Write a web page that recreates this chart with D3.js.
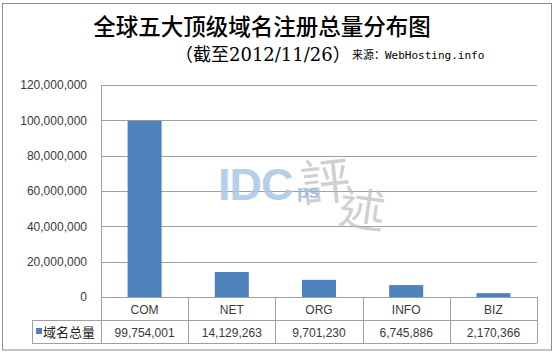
<!DOCTYPE html>
<html><head><meta charset="utf-8">
<script src="https://cdn.jsdelivr.net/npm/d3@7"></script>
<style>
html,body{margin:0;padding:0;background:#fff;}
svg{display:block;}
</style></head>
<body>
<svg id="chart" width="554" height="353"></svg>
<script>
const categories = ["COM", "NET", "ORG", "INFO", "BIZ"];
const values = [99754001, 14129263, 9701230, 6745886, 2170366];
const yTicks = [0, 20000000, 40000000, 60000000, 80000000, 100000000, 120000000];
const seriesName = "域名总量";
const titleText = "全球五大顶级域名注册总量分布图";
const subtitleParts = ["（截至", "2012/11/26", "）"];
const sourceText = "来源：WebHosting.info";

const svg = d3.select("#chart");
const fmt = d3.format(",");
const plotL = 101, plotR = 537, plotT = 85, plotB = 297;
const rowH = 23;

// outer border
svg.append("rect").attr("x", 2.5).attr("y", 3.5).attr("width", 549).attr("height", 346.5)
  .attr("fill", "#fff").attr("stroke", "#8c8c8c").attr("stroke-width", 1);

// titles
svg.append("text").attr("x", 262).attr("y", 35).attr("text-anchor", "middle")
  .attr("font-family", "'Noto Sans CJK SC', sans-serif").attr("font-weight", 500)
  .attr("font-size", 22.5).attr("fill", "#000").text(titleText);
const sub = svg.append("text").attr("x", 175).attr("y", 61).attr("font-size", 18).attr("fill", "#000");
sub.append("tspan").attr("font-family", "'Noto Sans CJK SC', sans-serif").text(subtitleParts[0]);
sub.append("tspan").attr("font-family", "'DejaVu Serif', serif").attr("font-size", 18).text(subtitleParts[1]);
sub.append("tspan").attr("font-family", "'Noto Sans CJK SC', sans-serif").text(subtitleParts[2]);
svg.append("text").attr("x", 352).attr("y", 59)
  .attr("font-family", "'DejaVu Sans Mono', 'Noto Sans CJK SC', monospace")
  .attr("font-size", 11).attr("fill", "#000").text(sourceText);

const x = d3.scaleBand().domain(categories).range([plotL, plotR]).paddingInner(0).paddingOuter(0);
const y = d3.scaleLinear().domain([0, 120000000]).range([plotB, plotT]);

// gridlines
svg.append("g").selectAll("line").data(yTicks).join("line")
  .attr("x1", plotL).attr("x2", plotR)
  .attr("y1", d => Math.round(y(d)) + 0.5).attr("y2", d => Math.round(y(d)) + 0.5)
  .attr("stroke", "#a0a0a0").attr("stroke-width", 1);

// y axis
const yAxis = d3.axisLeft(y).tickValues(yTicks).tickFormat(fmt).tickSize(0).tickPadding(14);
const gy = svg.append("g").attr("transform", `translate(${plotL},0)`).call(yAxis);
gy.select(".domain").attr("stroke", "#a0a0a0");
gy.selectAll("text").attr("font-family", "'Liberation Sans', Arial, sans-serif")
  .attr("font-size", 12).attr("fill", "#3a3a3a");

// watermark
const wm = svg.append("g");
wm.append("text").attr("x", 300).attr("y", 200).attr("font-family", "'Noto Sans CJK TC', sans-serif")
  .attr("font-size", 50).attr("fill", "#bdbdbd").attr("opacity", 0.7).attr("transform", "rotate(-6,325,180)").text("評");
wm.append("text").attr("x", 340).attr("y", 226).attr("font-family", "'Noto Sans CJK TC', sans-serif")
  .attr("font-size", 46).attr("fill", "#bdbdbd").attr("opacity", 0.7).attr("transform", "rotate(8,362,205)").text("述");
wm.append("text").attr("x", 218).attr("y", 200).attr("font-family", "'Liberation Sans', Arial, sans-serif")
  .attr("font-weight", "bold").attr("font-size", 45).attr("fill", "#a9c7e6").attr("opacity", 0.85).attr("letter-spacing", -1).text("IDC");
wm.append("text").attr("x", 297).attr("y", 198).attr("font-family", "'Liberation Sans', Arial, sans-serif")
  .attr("font-weight", "bold").attr("font-size", 19).attr("fill", "#9dbfe3").attr("opacity", 0.9).text("ps");

// bars
const barW = 34;
svg.append("g").selectAll("rect").data(values).join("rect")
  .attr("x", (d, i) => x(categories[i]) + x.bandwidth() / 2 - barW / 2)
  .attr("width", barW)
  .attr("y", d => y(d))
  .attr("height", d => y(0) - y(d))
  .attr("fill", "#4f81bd");

// data table
const tbl = svg.append("g");
const lineC = "#a0a0a0";
const legL = 32;
tbl.append("line").attr("x1", plotL).attr("x2", plotR).attr("y1", plotB + 0.5).attr("y2", plotB + 0.5).attr("stroke", lineC);
tbl.append("line").attr("x1", legL).attr("x2", plotR).attr("y1", plotB + rowH + 0.5).attr("y2", plotB + rowH + 0.5).attr("stroke", lineC);
tbl.append("line").attr("x1", legL).attr("x2", plotR).attr("y1", plotB + 2 * rowH + 0.5).attr("y2", plotB + 2 * rowH + 0.5).attr("stroke", lineC);
tbl.append("line").attr("x1", legL + 0.5).attr("x2", legL + 0.5).attr("y1", plotB + rowH).attr("y2", plotB + 2 * rowH).attr("stroke", lineC);
const bounds = categories.map(c => x(c)).concat([plotR]);
tbl.selectAll("line.v").data(bounds).join("line").attr("class", "v")
  .attr("x1", d => Math.round(d) + 0.5).attr("x2", d => Math.round(d) + 0.5)
  .attr("y1", plotB).attr("y2", plotB + 2 * rowH).attr("stroke", lineC);
tbl.selectAll("text.cat").data(categories).join("text").attr("class", "cat")
  .attr("x", d => x(d) + x.bandwidth() / 2).attr("y", plotB + 16.5)
  .attr("text-anchor", "middle").attr("font-family", "'Liberation Sans', Arial, sans-serif")
  .attr("font-size", 12).attr("fill", "#3a3a3a").text(d => d);
tbl.selectAll("text.val").data(values).join("text").attr("class", "val")
  .attr("x", (d, i) => x(categories[i]) + x.bandwidth() / 2).attr("y", plotB + rowH + 16.5)
  .attr("text-anchor", "middle").attr("font-family", "'Liberation Sans', Arial, sans-serif")
  .attr("font-size", 12).attr("fill", "#3a3a3a").text(d => fmt(d));
tbl.append("rect").attr("x", 36).attr("y", plotB + rowH + 8).attr("width", 6).attr("height", 6).attr("fill", "#4f81bd");
tbl.append("text").attr("x", 43).attr("y", plotB + rowH + 16.5)
  .attr("font-family", "'Noto Sans CJK SC', sans-serif").attr("font-size", 13).attr("fill", "#222").text(seriesName);
</script>
</body></html>
